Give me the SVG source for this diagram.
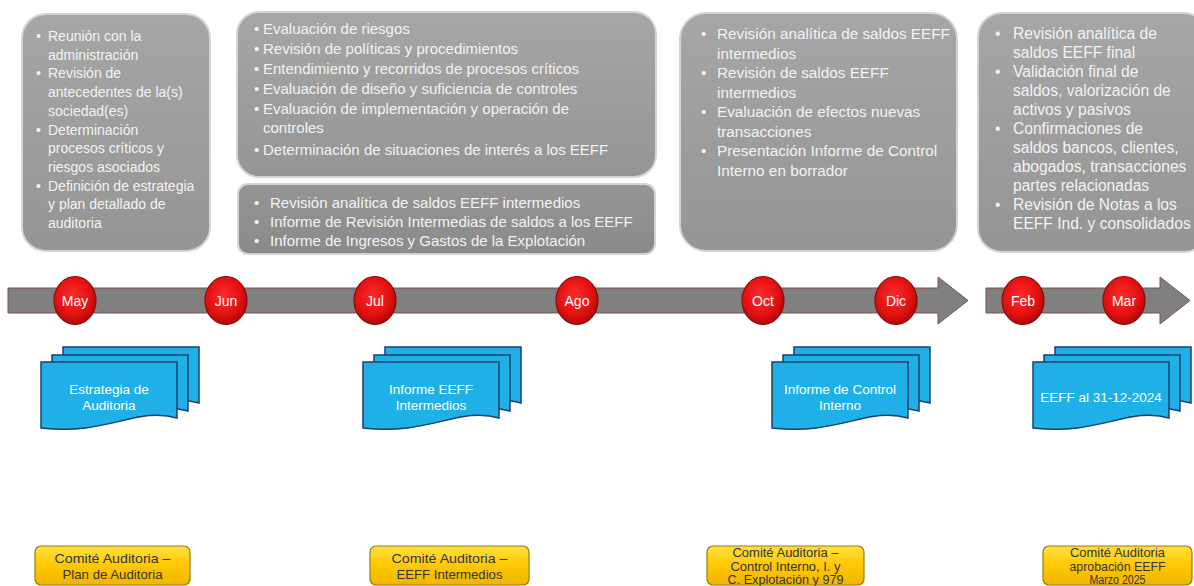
<svg xmlns="http://www.w3.org/2000/svg" width="1194" height="586" viewBox="0 0 1194 586">
<defs>
  <linearGradient id="gGray" x1="0" y1="0" x2="0" y2="1">
    <stop offset="0" stop-color="#a6a6a6"/>
    <stop offset="1" stop-color="#959595"/>
  </linearGradient>
  <linearGradient id="gGray2" x1="0" y1="0" x2="0" y2="1">
    <stop offset="0" stop-color="#959595"/>
    <stop offset="1" stop-color="#8a8a8a"/>
  </linearGradient>
  <radialGradient id="gRed" cx="0.45" cy="0.4" r="0.6">
    <stop offset="0" stop-color="#ff2a2a"/>
    <stop offset="0.7" stop-color="#e01010"/>
    <stop offset="1" stop-color="#b00808"/>
  </radialGradient>
  <linearGradient id="gYel" x1="0" y1="0" x2="0" y2="1">
    <stop offset="0" stop-color="#ffe040"/>
    <stop offset="0.5" stop-color="#ffc800"/>
    <stop offset="1" stop-color="#f0b400"/>
  </linearGradient>
  <path id="doc" d="M0,0 H136 V56 C96,44 66,74 0,66 Z"/>
</defs>
<style>
  .gbox { fill: url(#gGray); stroke: #d4d4d4; stroke-width: 2; }
  .gbox2 { fill: url(#gGray2); stroke: #d4d4d4; stroke-width: 2; }
  .gt { font-family: "Liberation Sans", Arial, sans-serif; fill: #f2f2f2; }
  .mon { fill: url(#gRed); stroke: #8a0a0a; stroke-width: 1.2; }
  .ml { font-family: "Liberation Sans", Arial, sans-serif; font-size: 14px; fill: #ffffff; text-anchor: middle; }
  .sheet { fill: #1eb0e6; stroke: #1d3f6e; stroke-width: 1.5; }
  .dt { font-family: "Liberation Sans", Arial, sans-serif; font-size: 13.5px; fill: #ffffff; text-anchor: middle; }
  .ybox { fill: url(#gYel); stroke: #9a7a10; stroke-width: 1.2; }
  .yt { font-family: "Liberation Sans", Arial, sans-serif; font-size: 13.5px; fill: #333333; text-anchor: middle; }
  .yt3 { font-family: "Liberation Sans", Arial, sans-serif; font-size: 12.5px; fill: #333333; text-anchor: middle; }
  .bar { fill: #808080; stroke: #7a5050; stroke-width: 1; }
</style>

<g id="box-may">
  <rect class="gbox" x="22" y="14" width="188" height="237" rx="24"/>
  <text class="gt" font-size="14">
    <tspan x="36" y="41">•</tspan><tspan x="48" y="41">Reunión con la</tspan>
    <tspan x="48" y="59.7">administración</tspan>
    <tspan x="36" y="78.4">•</tspan><tspan x="48" y="78.4">Revisión de</tspan>
    <tspan x="48" y="97.1">antecedentes de la(s)</tspan>
    <tspan x="48" y="115.8">sociedad(es)</tspan>
    <tspan x="36" y="134.5">•</tspan><tspan x="48" y="134.5">Determinación</tspan>
    <tspan x="48" y="153.2">procesos críticos y</tspan>
    <tspan x="48" y="171.9">riesgos asociados</tspan>
    <tspan x="36" y="190.6">•</tspan><tspan x="48" y="190.6">Definición de estrategia</tspan>
    <tspan x="48" y="209.3">y plan detallado de</tspan>
    <tspan x="48" y="228">auditoria</tspan>
  </text>
</g>

<g id="box-jul">
  <rect class="gbox" x="237" y="12" width="419" height="165" rx="22"/>
  <text class="gt" font-size="15">
    <tspan x="254" y="34">•</tspan><tspan x="263" y="34">Evaluación de riesgos</tspan>
    <tspan x="254" y="54">•</tspan><tspan x="263" y="54">Revisión de políticas y procedimientos</tspan>
    <tspan x="254" y="74">•</tspan><tspan x="263" y="74">Entendimiento y recorridos de procesos críticos</tspan>
    <tspan x="254" y="94">•</tspan><tspan x="263" y="94">Evaluación de diseño y suficiencia de controles</tspan>
    <tspan x="254" y="114">•</tspan><tspan x="263" y="114">Evaluación de implementación y operación de</tspan>
    <tspan x="263" y="133">controles</tspan>
    <tspan x="254" y="155">•</tspan><tspan x="263" y="155">Determinación de situaciones de interés a los EEFF</tspan>
  </text>
</g>

<g id="box-jul2">
  <rect class="gbox2" x="238" y="184" width="417" height="70" rx="10"/>
  <text class="gt" font-size="15">
    <tspan x="254" y="208">•</tspan><tspan x="270" y="208">Revisión analítica de saldos EEFF intermedios</tspan>
    <tspan x="254" y="227">•</tspan><tspan x="270" y="227">Informe de Revisión Intermedias de saldos a los EEFF</tspan>
    <tspan x="254" y="246">•</tspan><tspan x="270" y="246">Informe de Ingresos y Gastos de la Explotación</tspan>
  </text>
</g>

<g id="box-oct">
  <rect class="gbox" x="680" y="13" width="277" height="238" rx="26"/>
  <text class="gt" font-size="15.3">
    <tspan x="701" y="39">•</tspan><tspan x="717" y="39">Revisión analítica de saldos EEFF</tspan>
    <tspan x="717" y="58.5">intermedios</tspan>
    <tspan x="701" y="78">•</tspan><tspan x="717" y="78">Revisión de saldos EEFF</tspan>
    <tspan x="717" y="97.5">intermedios</tspan>
    <tspan x="701" y="117">•</tspan><tspan x="717" y="117">Evaluación de efectos nuevas</tspan>
    <tspan x="717" y="136.5">transacciones</tspan>
    <tspan x="701" y="156">•</tspan><tspan x="717" y="156">Presentación Informe de Control</tspan>
    <tspan x="717" y="175.5">Interno  en borrador</tspan>
  </text>
</g>

<g id="box-feb">
  <rect class="gbox" x="978" y="13" width="230" height="239" rx="24"/>
  <text class="gt" font-size="15.6">
    <tspan x="995" y="39">•</tspan><tspan x="1013" y="39">Revisión analítica de</tspan>
    <tspan x="1013" y="58">saldos EEFF final</tspan>
    <tspan x="995" y="77">•</tspan><tspan x="1013" y="77">Validación final de</tspan>
    <tspan x="1013" y="96">saldos, valorización de</tspan>
    <tspan x="1013" y="115">activos y pasivos</tspan>
    <tspan x="995" y="134">•</tspan><tspan x="1013" y="134">Confirmaciones de</tspan>
    <tspan x="1013" y="153">saldos  bancos, clientes,</tspan>
    <tspan x="1013" y="172">abogados, transacciones</tspan>
    <tspan x="1013" y="191">partes relacionadas</tspan>
    <tspan x="995" y="210">•</tspan><tspan x="1013" y="210">Revisión de Notas a los</tspan>
    <tspan x="1013" y="229">EEFF Ind. y consolidados</tspan>
  </text>
</g>

<g id="connectors">
  <path class="bar" d="M8,288 H938 V277 L968,300.5 L938,324 V313 H8 Z"/>
  <path class="bar" d="M986,288 H1160 V277 L1190,300.5 L1160,324 V313 H986 Z"/>
</g>

<g id="m-may"><ellipse class="mon" cx="75" cy="300.5" rx="21" ry="24"/><text class="ml" x="75" y="305.5">May</text></g>
<g id="m-jun"><ellipse class="mon" cx="226" cy="300.5" rx="21" ry="24"/><text class="ml" x="226" y="305.5">Jun</text></g>
<g id="m-jul"><ellipse class="mon" cx="375" cy="300.5" rx="21" ry="24"/><text class="ml" x="375" y="305.5">Jul</text></g>
<g id="m-ago"><ellipse class="mon" cx="577" cy="300.5" rx="21" ry="24"/><text class="ml" x="577" y="305.5">Ago</text></g>
<g id="m-oct"><ellipse class="mon" cx="763" cy="300.5" rx="21" ry="24"/><text class="ml" x="763" y="305.5">Oct</text></g>
<g id="m-dic"><ellipse class="mon" cx="896" cy="300.5" rx="21" ry="24"/><text class="ml" x="896" y="305.5">Dic</text></g>
<g id="m-feb"><ellipse class="mon" cx="1023" cy="300.5" rx="21" ry="24"/><text class="ml" x="1023" y="305.5">Feb</text></g>
<g id="m-mar"><ellipse class="mon" cx="1124" cy="300.5" rx="21" ry="24"/><text class="ml" x="1124" y="305.5">Mar</text></g>

<g id="doc-estrategia">
  <use href="#doc" class="sheet" transform="translate(63,347)"/>
  <use href="#doc" class="sheet" transform="translate(52,355)"/>
  <use href="#doc" class="sheet" transform="translate(41,362)"/>
  <text class="dt"><tspan x="109" y="394">Estrategia de</tspan><tspan x="109" y="410">Auditoria</tspan></text>
</g>
<g id="doc-intermedios">
  <use href="#doc" class="sheet" transform="translate(385,347)"/>
  <use href="#doc" class="sheet" transform="translate(374,355)"/>
  <use href="#doc" class="sheet" transform="translate(363,362)"/>
  <text class="dt"><tspan x="431" y="394">Informe EEFF</tspan><tspan x="431" y="410">Intermedios</tspan></text>
</g>
<g id="doc-control">
  <use href="#doc" class="sheet" transform="translate(794,347)"/>
  <use href="#doc" class="sheet" transform="translate(783,355)"/>
  <use href="#doc" class="sheet" transform="translate(772,362)"/>
  <text class="dt"><tspan x="840" y="394">Informe de Control</tspan><tspan x="840" y="410">Interno</tspan></text>
</g>
<g id="doc-eeff">
  <use href="#doc" class="sheet" transform="translate(1055,347)"/>
  <use href="#doc" class="sheet" transform="translate(1044,355)"/>
  <use href="#doc" class="sheet" transform="translate(1033,362)"/>
  <text class="dt"><tspan x="1101" y="402">EEFF al 31-12-2024</tspan></text>
</g>

<g id="com-plan">
  <rect class="ybox" x="35" y="546" width="155" height="39" rx="6"/>
  <text class="yt"><tspan x="112.5" y="563" textLength="116" lengthAdjust="spacingAndGlyphs">Comité Auditoria –</tspan><tspan x="112.5" y="579" textLength="100" lengthAdjust="spacingAndGlyphs">Plan de Auditoria</tspan></text>
</g>
<g id="com-intermedios">
  <rect class="ybox" x="370" y="546" width="159" height="39" rx="6"/>
  <text class="yt"><tspan x="449.5" y="563" textLength="116" lengthAdjust="spacingAndGlyphs">Comité Auditoria –</tspan><tspan x="449.5" y="579" textLength="106" lengthAdjust="spacingAndGlyphs">EEFF Intermedios</tspan></text>
</g>
<g id="com-control">
  <rect class="ybox" x="707" y="546" width="157" height="39" rx="6"/>
  <text class="yt3"><tspan x="785.5" y="557" textLength="106" lengthAdjust="spacingAndGlyphs">Comité Auditoria –</tspan><tspan x="785.5" y="570.5" textLength="110" lengthAdjust="spacingAndGlyphs">Control Interno, I. y</tspan><tspan x="785.5" y="584" textLength="116" lengthAdjust="spacingAndGlyphs">C. Explotación y 979</tspan></text>
</g>
<g id="com-aprob">
  <rect class="ybox" x="1043" y="546" width="149" height="39" rx="6"/>
  <text class="yt3"><tspan x="1117.5" y="557" textLength="95" lengthAdjust="spacingAndGlyphs">Comité Auditoria</tspan><tspan x="1117.5" y="570.5" textLength="96" lengthAdjust="spacingAndGlyphs">aprobación EEFF</tspan><tspan x="1117.5" y="584" textLength="56" lengthAdjust="spacingAndGlyphs">Marzo 2025</tspan></text>
</g>
</svg>
